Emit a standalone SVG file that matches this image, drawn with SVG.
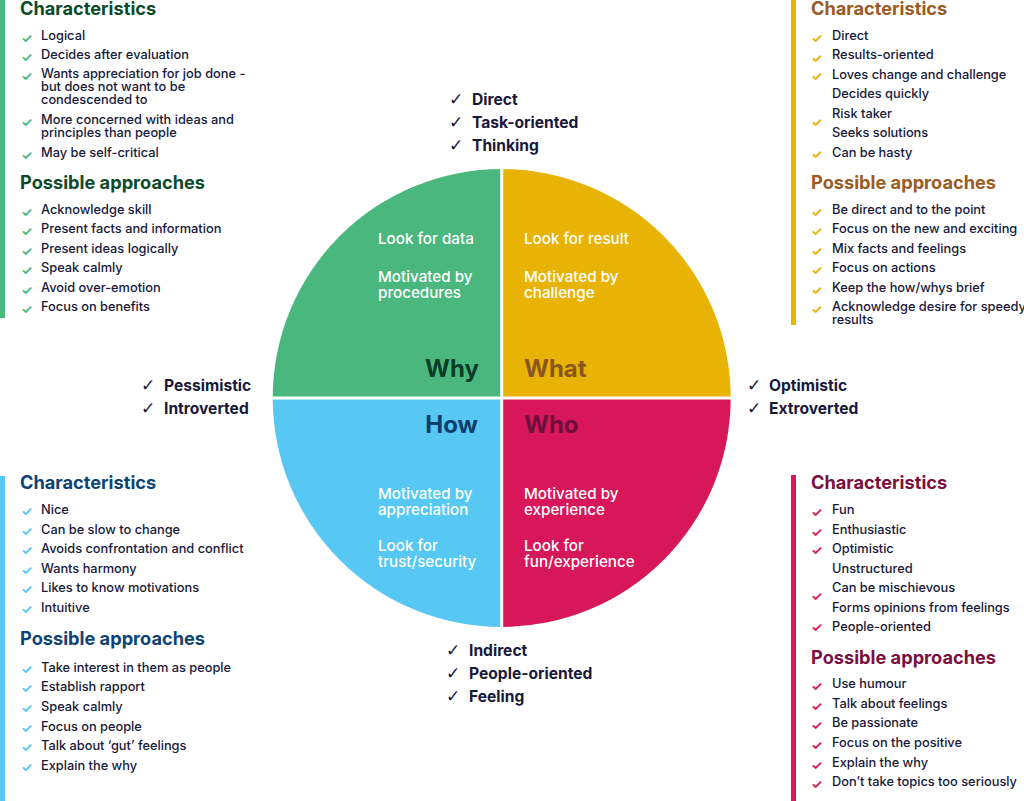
<svg xmlns="http://www.w3.org/2000/svg" width="1024" height="801" viewBox="0 0 1024 801">
<style>
text{font-family:Inter,"Noto Sans","Liberation Sans",sans-serif}
.b{font-size:12.8px;font-weight:500;fill:#18183a}
.h{font-size:18.2px;font-weight:700}
.ck{font-family:"DejaVu Sans",sans-serif;font-size:13px;font-weight:700}
.sk{font-family:"DejaVu Sans",sans-serif;font-size:17px;fill:#18183a}
.s{font-size:15.6px;font-weight:700;fill:#18183a}
.w{font-size:15.2px;font-weight:500;fill:#ffffff}
.q{font-size:24px;font-weight:700}
.g{fill:#4ab87e}.y{fill:#e8b305}.bl{fill:#56c8f3}.p{fill:#d8165a}
</style>
<rect width="1024" height="801" fill="#ffffff"/>
<g id="circle">
<g id="why"><path class="g" d="M501.7,398 L272.7,398 A229,229 0 0 1 501.7,169 Z"/>
<text class="w" x="378" y="244">Look for data</text>
<text class="w" x="378" y="282">Motivated by</text>
<text class="w" x="378" y="298">procedures</text>
<text class="q" x="479" y="377" text-anchor="end" fill="#0c3b26">Why</text></g>
<g id="what"><path class="y" d="M501.7,398 L501.7,169 A229,229 0 0 1 730.7,398 Z"/>
<text class="w" x="524" y="244">Look for result</text>
<text class="w" x="524" y="282">Motivated by</text>
<text class="w" x="524" y="298">challenge</text>
<text class="q" x="524" y="377" fill="#8a5520">What</text></g>
<g id="who"><path class="p" d="M501.7,398 L730.7,398 A229,229 0 0 1 501.7,627 Z"/>
<text class="q" x="524" y="433" fill="#6e0e3b">Who</text>
<text class="w" x="524" y="499">Motivated by</text>
<text class="w" x="524" y="515">experience</text>
<text class="w" x="524" y="551">Look for</text>
<text class="w" x="524" y="567">fun/experience</text></g>
<g id="how"><path class="bl" d="M501.7,398 L501.7,627 A229,229 0 0 1 272.7,398 Z"/>
<text class="q" x="478" y="433" text-anchor="end" fill="#0e3d6d">How</text>
<text class="w" x="378" y="499">Motivated by</text>
<text class="w" x="378" y="515">appreciation</text>
<text class="w" x="378" y="551">Look for</text>
<text class="w" x="378" y="567">trust/security</text></g>
<path d="M501.7,160 V640 M265,398 H740" stroke="#ffffff" stroke-width="3"/>
</g>
<g id="top-labels">
<text class="sk" x="449" y="105">✓</text><text class="s" x="472" y="105">Direct</text>
<text class="sk" x="449" y="128">✓</text><text class="s" x="472" y="128">Task-oriented</text>
<text class="sk" x="449" y="151">✓</text><text class="s" x="472" y="151">Thinking</text>
</g>
<g id="bottom-labels">
<text class="sk" x="446" y="656">✓</text><text class="s" x="469" y="656">Indirect</text>
<text class="sk" x="446" y="679">✓</text><text class="s" x="469" y="679">People-oriented</text>
<text class="sk" x="446" y="702">✓</text><text class="s" x="469" y="702">Feeling</text>
</g>
<g id="left-labels">
<text class="sk" x="141" y="391">✓</text><text class="s" x="164" y="391">Pessimistic</text>
<text class="sk" x="141" y="414">✓</text><text class="s" x="164" y="414">Introverted</text>
</g>
<g id="right-labels">
<text class="sk" x="747" y="391">✓</text><text class="s" x="769" y="391">Optimistic</text>
<text class="sk" x="747" y="414">✓</text><text class="s" x="769" y="414">Extroverted</text>
</g>
<g id="panel-why">
<rect x="0" y="0" width="5" height="318" class="g"/>
<text class="h" x="20" y="15" fill="#0c4a2a">Characteristics</text>
<g class="ck g">
<text x="21" y="43">✓</text><text x="21" y="62">✓</text><text x="21" y="81">✓</text><text x="21" y="127">✓</text><text x="21" y="160">✓</text>
<text x="21" y="217">✓</text><text x="21" y="236">✓</text><text x="21" y="256">✓</text><text x="21" y="275">✓</text><text x="21" y="295">✓</text><text x="21" y="314">✓</text>
</g>
<text class="b" x="41" y="40">Logical</text>
<text class="b" x="41" y="59">Decides after evaluation</text>
<text class="b" x="41" y="78">Wants appreciation for job done -</text>
<text class="b" x="41" y="91">but does not want to be</text>
<text class="b" x="41" y="104">condescended to</text>
<text class="b" x="41" y="124">More concerned with ideas and</text>
<text class="b" x="41" y="137">principles than people</text>
<text class="b" x="41" y="157">May be self-critical</text>
<text class="h" x="20" y="189" fill="#0c4a2a">Possible approaches</text>
<text class="b" x="41" y="214">Acknowledge skill</text>
<text class="b" x="41" y="233">Present facts and information</text>
<text class="b" x="41" y="253">Present ideas logically</text>
<text class="b" x="41" y="272">Speak calmly</text>
<text class="b" x="41" y="292">Avoid over-emotion</text>
<text class="b" x="41" y="311">Focus on benefits</text>
</g>
<g id="panel-what">
<rect x="791" y="0" width="5" height="325" class="y"/>
<text class="h" x="811" y="15" fill="#9a5b24">Characteristics</text>
<g class="ck y">
<text x="811" y="43">✓</text><text x="811" y="63">✓</text><text x="811" y="81">✓</text><text x="811" y="127">✓</text><text x="811" y="159">✓</text>
<text x="811" y="217">✓</text><text x="811" y="236">✓</text><text x="811" y="256">✓</text><text x="811" y="275">✓</text><text x="811" y="295">✓</text><text x="811" y="314">✓</text>
</g>
<text class="b" x="832" y="40">Direct</text>
<text class="b" x="832" y="59">Results-oriented</text>
<text class="b" x="832" y="79">Loves change and challenge</text>
<text class="b" x="832" y="98">Decides quickly</text>
<text class="b" x="832" y="118">Risk taker</text>
<text class="b" x="832" y="137">Seeks solutions</text>
<text class="b" x="832" y="157">Can be hasty</text>
<text class="h" x="811" y="189" fill="#9a5b24">Possible approaches</text>
<text class="b" x="832" y="214">Be direct and to the point</text>
<text class="b" x="832" y="233">Focus on the new and exciting</text>
<text class="b" x="832" y="253">Mix facts and feelings</text>
<text class="b" x="832" y="272">Focus on actions</text>
<text class="b" x="832" y="292">Keep the how/whys brief</text>
<text class="b" x="832" y="311">Acknowledge desire for speedy</text>
<text class="b" x="832" y="324">results</text>
</g>
<g id="panel-how">
<rect x="0" y="476" width="5" height="325" class="bl"/>
<text class="h" x="20" y="489" fill="#0e4475">Characteristics</text>
<g class="ck bl">
<text x="21" y="516">✓</text><text x="21" y="536">✓</text><text x="21" y="555">✓</text><text x="21" y="575">✓</text><text x="21" y="594">✓</text><text x="21" y="614">✓</text>
<text x="21" y="674">✓</text><text x="21" y="693">✓</text><text x="21" y="713">✓</text><text x="21" y="733">✓</text><text x="21" y="752">✓</text><text x="21" y="772">✓</text>
</g>
<text class="b" x="41" y="514">Nice</text>
<text class="b" x="41" y="534">Can be slow to change</text>
<text class="b" x="41" y="553">Avoids confrontation and conflict</text>
<text class="b" x="41" y="573">Wants harmony</text>
<text class="b" x="41" y="592">Likes to know motivations</text>
<text class="b" x="41" y="612">Intuitive</text>
<text class="h" x="20" y="645" fill="#0e4475">Possible approaches</text>
<text class="b" x="41" y="672">Take interest in them as people</text>
<text class="b" x="41" y="691">Establish rapport</text>
<text class="b" x="41" y="711">Speak calmly</text>
<text class="b" x="41" y="731">Focus on people</text>
<text class="b" x="41" y="750">Talk about ‘gut’ feelings</text>
<text class="b" x="41" y="770">Explain the why</text>
</g>
<g id="panel-who">
<rect x="791" y="475" width="5" height="326" class="p"/>
<text class="h" x="811" y="489" fill="#7a1040">Characteristics</text>
<g class="ck p">
<text x="811" y="517">✓</text><text x="811" y="537">✓</text><text x="811" y="555">✓</text><text x="811" y="601">✓</text><text x="811" y="632">✓</text>
<text x="811" y="691">✓</text><text x="811" y="711">✓</text><text x="811" y="730">✓</text><text x="811" y="750">✓</text><text x="811" y="770">✓</text><text x="811" y="789">✓</text>
</g>
<text class="b" x="832" y="514">Fun</text>
<text class="b" x="832" y="534">Enthusiastic</text>
<text class="b" x="832" y="553">Optimistic</text>
<text class="b" x="832" y="573">Unstructured</text>
<text class="b" x="832" y="592">Can be mischievous</text>
<text class="b" x="832" y="612">Forms opinions from feelings</text>
<text class="b" x="832" y="631">People-oriented</text>
<text class="h" x="811" y="664" fill="#7a1040">Possible approaches</text>
<text class="b" x="832" y="688">Use humour</text>
<text class="b" x="832" y="708">Talk about feelings</text>
<text class="b" x="832" y="727">Be passionate</text>
<text class="b" x="832" y="747">Focus on the positive</text>
<text class="b" x="832" y="767">Explain the why</text>
<text class="b" x="832" y="786">Don’t take topics too seriously</text>
</g>
</svg>
